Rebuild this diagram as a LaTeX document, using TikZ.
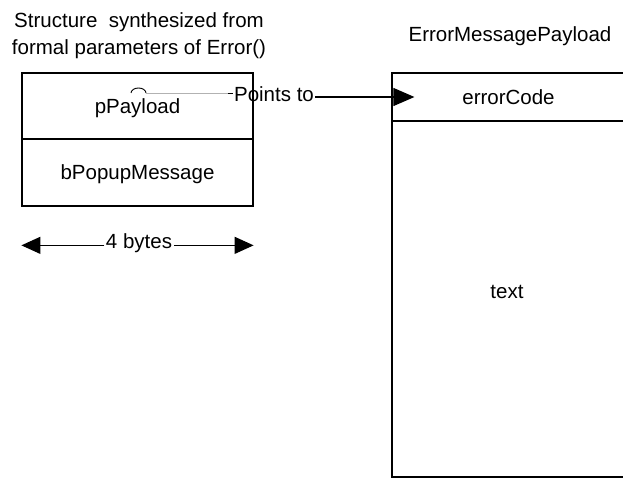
\documentclass[tikz,border=0pt]{standalone}
\usepackage{fontspec}
\setmainfont{Liberation Sans}
\usetikzlibrary{arrows.meta}
\begin{document}
\begin{tikzpicture}[x=1pt,y=-1pt,
  every node/.style={font=\fontsize{20.5}{24}\selectfont, inner sep=0pt},
  cell/.style={draw, line width=1.2pt, minimum width=231pt, text height=14.7pt, text depth=0pt},
  txt/.style={anchor=base},
  link/.style={draw=gray!60, line width=0.7pt},
  pointer/.style={line width=1.1pt, -{Triangle[length=21pt,width=18pt]}},
  spantip/.style={line width=1.1pt, -{Triangle[length=19pt,width=17pt]}}]
\useasboundingbox (0,0) rectangle (623,489);
\clip (0,0) rectangle (623,489);
% left structure
\node[cell, minimum height=66pt] (ptr) at (137.5,106) {pPayload};
\node[cell, minimum height=67pt] (popup) at (137.5,172.5) {bPopupMessage};
% right structure
\node[cell, minimum width=233pt, minimum height=48pt] (code) at (508.5,97) {errorCode};
\node[cell, minimum width=233pt, minimum height=356pt] (body) at (508.5,299) {};
\node[txt] (bodytext) at (507,298) {text};
% titles
\node[txt] (ltitle1) at (139,27.5) {Structure\ \ synthesized from};
\node[txt] (ltitle2) at (139,54.5) {formal parameters of Error()};
\node[txt] (rtitle) at (510,42) {ErrorMessagePayload};
% pointer
\coordinate (jumpstart) at (131,93);
\coordinate (jumpend) at (146,93);
\node[txt] (pts) at (274,102) {Points to};
\coordinate (tip) at ([xshift=23pt]code.west);
\draw[line width=0.9pt] (jumpstart) arc[start angle=180, end angle=0, x radius=7.5pt, y radius=5pt];
\draw[link] (jumpend) -- ([xshift=-6pt]pts.west |- jumpstart);
\draw[line width=0.9pt] ([xshift=-6pt]pts.west |- jumpstart) -- ([xshift=-1pt]pts.west |- jumpstart);
\draw[pointer] ([xshift=1pt]pts.east |- tip) -- (tip);
% 4 bytes
\node[txt, inner sep=1.5pt] (bytes) at (139,248) {4 bytes};
\draw[spantip] (bytes.mid west) -- (popup.west |- bytes.mid west);
\draw[spantip] (bytes.mid east) -- (popup.east |- bytes.mid east);
\end{tikzpicture}
\end{document}
